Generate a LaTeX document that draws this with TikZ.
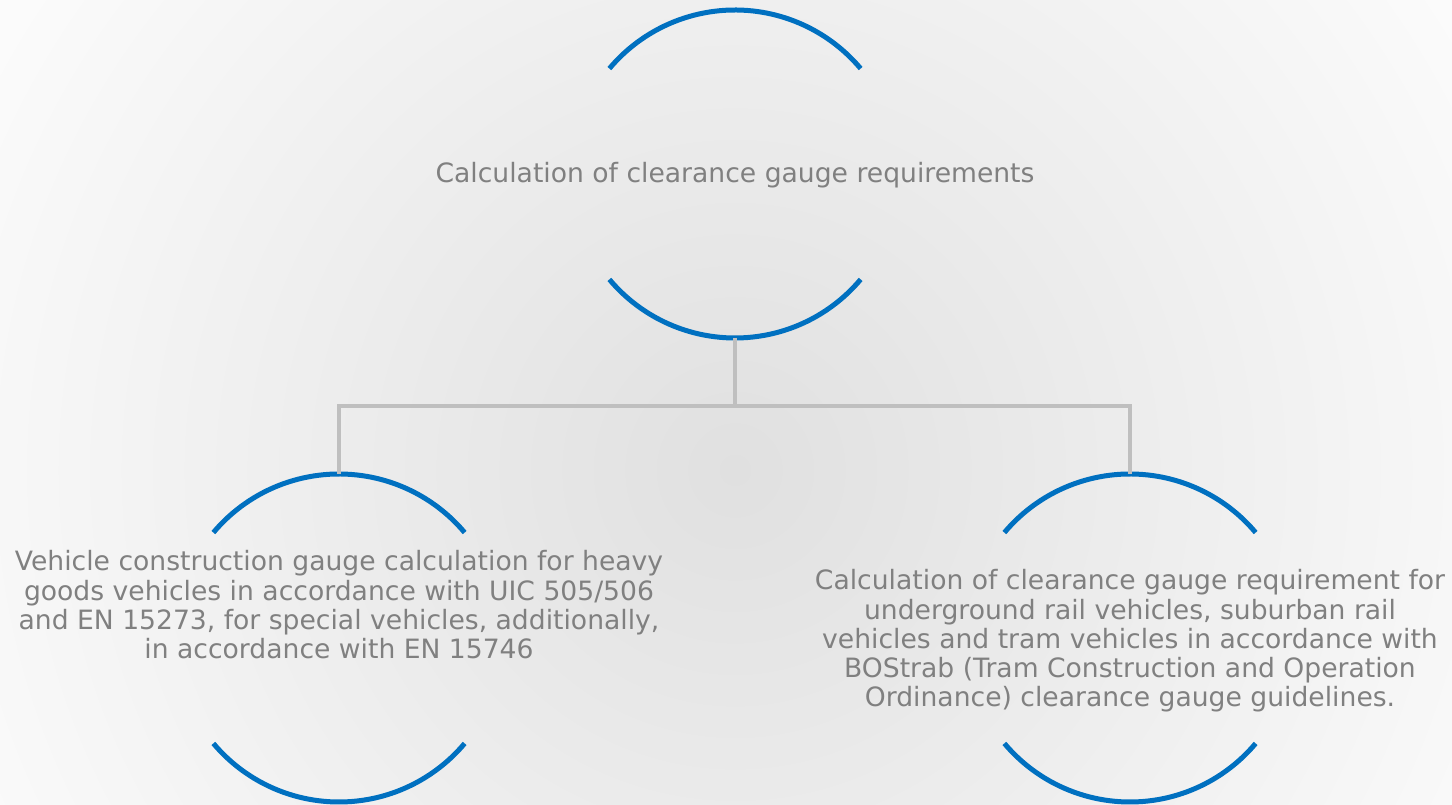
\documentclass[tikz,border=0pt]{standalone}
\usepackage{fontspec}
\setmainfont{DejaVu Sans}
\definecolor{arcblue}{RGB}{0,112,192}
\definecolor{conngray}{RGB}{191,191,191}
\definecolor{txtgray}{RGB}{128,128,128}
\definecolor{bgcenter}{RGB}{224,224,224}
\definecolor{bgedge}{RGB}{251,251,251}
\pgfdeclareradialshading{bgshade}{\pgfpoint{0bp}{0bp}}{color(0bp)=(bgcenter); color(25bp)=(bgedge); color(50bp)=(bgedge)}
\begin{document}
\begin{tikzpicture}[x=1pt,y=1pt,
  ring/.style={circle,minimum size=328pt,inner sep=0pt,outer sep=0pt},
  arcline/.style={draw=arcblue,line width=5pt},
  conn/.style={draw=conngray,line width=4pt},
  label/.style={text=txtgray,align=center,font=\fontsize{26.6}{29.3}\selectfont,inner sep=0pt}]
\useasboundingbox (0,0) rectangle (1452,805);
\begin{scope}
\clip (0,0) rectangle (1452,805);
\fill[bgedge] (0,0) rectangle (1452,805);
\shade[shading=bgshade] (735,335) circle (850);
\end{scope}
\node[ring] (c0) at (735,631) {};
\node[ring] (c1) at (339,167) {};
\node[ring] (c2) at (1130,167) {};
\foreach \c in {c0,c1,c2}{
  \draw[arcline] (\c.140) arc[start angle=140,end angle=40,radius=164pt];
  \draw[arcline] (\c.220) arc[start angle=220,end angle=320,radius=164pt];
}
\draw[conn] (c0.south) -- ++(0,-68) coordinate (j) -| (c1.north);
\draw[conn] (j) -| (c2.north);
\node[label] (t0) at (735,630) {Calculation of clearance gauge requirements};
\node[label] (t1) at (339,200) {Vehicle construction gauge calculation for heavy\\goods vehicles in accordance with UIC 505/506\\and EN 15273, for special vehicles, additionally,\\in accordance with EN 15746};
\node[label] (t2) at (1130,164) {Calculation of clearance gauge requirement for\\underground rail vehicles, suburban rail\\vehicles and tram vehicles in accordance with\\BOStrab (Tram Construction and Operation\\Ordinance) clearance gauge guidelines.};
\end{tikzpicture}
\end{document}
